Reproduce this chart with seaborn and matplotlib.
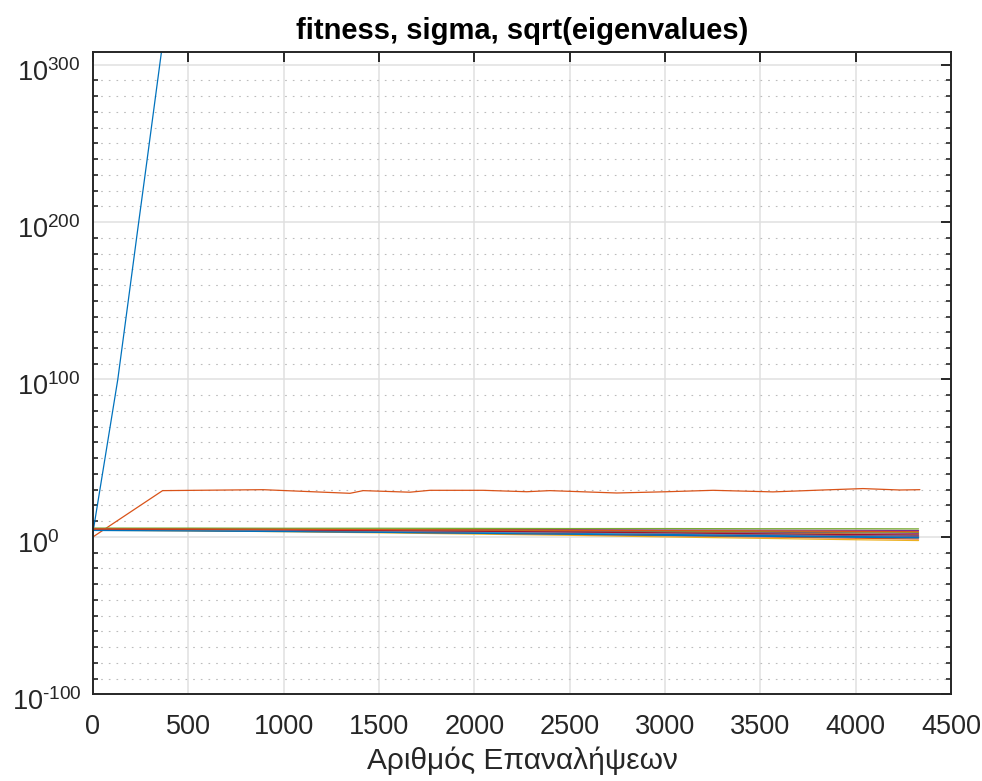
import numpy as np
import pandas as pd
import matplotlib
matplotlib.use("Agg")
import matplotlib.pyplot as plt
from matplotlib.ticker import FixedLocator
from matplotlib.transforms import ScaledTranslation
import seaborn as sns

# ---- data (values stored as log10 exponents) ----
fitness_iter = [0, 59, 130, 185, 232, 282, 360, 380]
fitness_log10 = [3.0, 47.0, 100.0, 150.0, 193.0, 238.0, 309.0, 327.0]

sigma_iter = [0, 365, 892, 1348, 1417, 1662, 1767, 2046, 2275, 2396, 2747,
              3010, 3252, 3566, 3828, 4038, 4232, 4337]
sigma_log10 = [0.0, 29.4, 30.0, 27.7, 29.4, 28.4, 29.6, 29.6, 28.7, 29.4, 27.9,
               28.7, 29.6, 28.6, 29.8, 30.7, 29.8, 30.0]

eig_iter = [0, 500, 1000, 1500, 2000, 2500, 3000, 3500, 4000, 4330]
eig_log10 = [
    [4.2, 3.9, 3.3, 2.6, 1.8, 1.0, 0.0, -0.9, -1.8, -2.3],
    [5.3, 5.2, 5.0, 4.9, 4.7, 4.6, 4.4, 4.3, 4.2, 4.1],
    [5.6, 5.6, 5.5, 5.5, 5.4, 5.3, 5.3, 5.2, 5.2, 5.1],
    [4.5, 4.3, 3.9, 3.4, 2.9, 2.3, 1.6, 0.9, 0.1, -0.4],
    [4.6, 4.4, 4.1, 3.7, 3.2, 2.7, 2.1, 1.5, 0.9, 0.5],
    [4.4, 4.2, 3.8, 3.3, 2.8, 2.2, 1.5, 0.8, 0.1, -0.2],
    [4.3, 4.0, 3.6, 3.0, 2.3, 1.6, 0.8, 0.0, -0.8, -1.3],
    [4.8, 4.6, 4.4, 4.1, 3.8, 3.4, 3.0, 2.5, 2.0, 1.7],
    [5.0, 4.9, 4.7, 4.4, 4.1, 3.8, 3.4, 3.0, 2.6, 2.3],
    [5.2, 5.1, 4.9, 4.6, 4.3, 4.0, 3.7, 3.4, 3.1, 2.9],
    [4.7, 4.5, 4.2, 3.8, 3.3, 2.8, 2.3, 1.8, 1.3, 1.0],
    [4.9, 4.7, 4.4, 4.0, 3.6, 3.1, 2.6, 2.0, 1.5, 1.2],
    [4.1, 3.8, 3.4, 2.9, 2.3, 1.7, 1.0, 0.4, -0.2, -0.6],
    [5.1, 5.0, 4.8, 4.6, 4.4, 4.2, 4.0, 3.8, 3.5, 3.3],
]

x_ticks = [0, 500, 1000, 1500, 2000, 2500, 3000, 3500, 4000, 4500]
y_ticks = [-100, 0, 100, 200, 300]
y_ticklabels = [r"$10^{\text{-}100}$", r"$10^{0}$", r"$10^{100}$",
                r"$10^{200}$", r"$10^{300}$"]

title_text = "fitness, sigma, sqrt(eigenvalues)"
xlabel_text = "Αριθμός Επαναλήψεων"

# MATLAB default line colour order
line_colors = ["#0072BD", "#D95319", "#EDB120", "#7E2F8E",
               "#77AC30", "#4DBEEE", "#A2142F"]

# ---- long-form table ----
frames = [pd.DataFrame({"iter": fitness_iter, "val": fitness_log10, "series": "fitness"}),
          pd.DataFrame({"iter": sigma_iter, "val": sigma_log10, "series": "sigma"})]
for i, vals in enumerate(eig_log10):
    frames.append(pd.DataFrame({"iter": eig_iter, "val": vals, "series": f"eig{i + 1}"}))
df = pd.concat(frames, ignore_index=True)
series_names = list(dict.fromkeys(df["series"]))
palette = {name: line_colors[k % len(line_colors)] for k, name in enumerate(series_names)}

# ---- figure ----
sns.set_theme(style="white")
plt.rcParams["font.family"] = ["Liberation Sans", "DejaVu Sans"]
plt.rcParams["mathtext.fontset"] = "custom"
plt.rcParams["mathtext.rm"] = "Liberation Sans"
plt.rcParams["mathtext.it"] = "Liberation Sans"
plt.rcParams["mathtext.default"] = "rm"

fig = plt.figure(figsize=(9.82, 7.81), dpi=100)
ax = fig.add_axes([0.0947, 0.111, 0.8737, 0.8228])

sns.lineplot(data=df, x="iter", y="val", hue="series", hue_order=series_names,
             palette=palette, estimator=None, sort=False, legend=False,
             linewidth=0.9, ax=ax)

ax.set_xlim(0, 4500)
ax.set_ylim(-100, 308.25)
ax.xaxis.set_major_locator(FixedLocator(x_ticks))
ax.set_yticks(y_ticks)
ax.set_yticklabels(y_ticklabels)
ax.yaxis.set_minor_locator(FixedLocator([v for v in range(-90, 301, 10) if v % 100 != 0]))

ax.grid(True, which="major", color="#e0e0e0", linewidth=1.1, linestyle="-")
ax.grid(True, which="minor", axis="y", color="#bcbcbc", linewidth=0.8,
        linestyle=(0, (1.5, 5.4)))
ax.set_axisbelow(True)

for s in ax.spines.values():
    s.set_color("#262626")
    s.set_linewidth(1.4)
    s.set_visible(True)

ax.tick_params(axis="both", which="major", direction="in", length=7, width=1.4,
               color="#262626", labelcolor="#262626", labelsize=19.5,
               top=True, right=True)
ax.tick_params(axis="y", which="minor", direction="in", length=3.5, width=1.2,
               color="#262626", left=True, right=True)
ax.tick_params(axis="x", which="major", pad=14)

# exponent labels: baseline a little below the tick, left-aligned in a common
# column (the negative one right-aligned against the axis)
drop = ScaledTranslation(0, -0.16, fig.dpi_scale_trans)
for tick, val in zip(ax.yaxis.get_major_ticks(), y_ticks):
    tick.label1.set_verticalalignment("baseline")
    if val < 0:
        tick.set_pad(8)
        tick.label1.set_horizontalalignment("right")
    else:
        tick.set_pad(54.5)
        tick.label1.set_horizontalalignment("left")
    tick.label1.set_transform(tick.label1.get_transform() + drop)

ax.set_title(title_text, fontsize=21, fontweight="bold", color="black", pad=9)
ax.set_xlabel(xlabel_text, fontsize=21.5, color="#262626", labelpad=5)
ax.set_ylabel("")

fig.savefig("out.png", dpi=100)
